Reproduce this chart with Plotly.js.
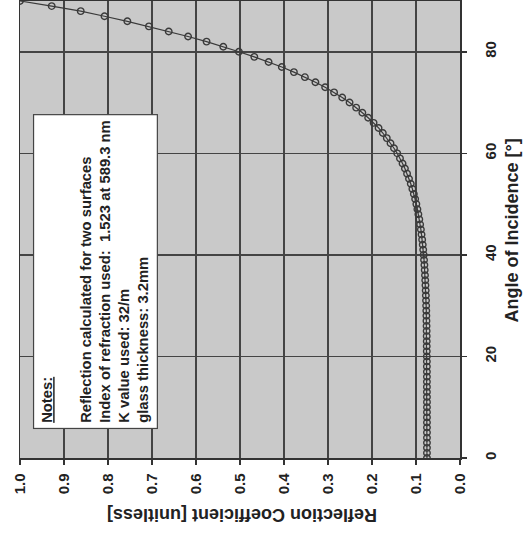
<!DOCTYPE html>
<html>
<head>
<meta charset="utf-8">
<script src="https://cdn.plot.ly/plotly-3.0.1.min.js"></script>
<style>
html,body{margin:0;padding:0;background:#fff;}
#chart{width:525px;height:541px;}
</style>
</head>
<body>
<div id="chart"></div>
<script>
// Angle of incidence [deg], 0..90 in 1 degree steps
const angles = [
  0,1,2,3,4,5,6,7,8,9,10,11,12,13,14,15,16,17,18,19,
  20,21,22,23,24,25,26,27,28,29,30,31,32,33,34,35,36,37,38,39,
  40,41,42,43,44,45,46,47,48,49,50,51,52,53,54,55,56,57,58,59,
  60,61,62,63,64,65,66,67,68,69,70,71,72,73,74,75,76,77,78,79,
  80,81,82,83,84,85,86,87,88,89,90
];
// Reflection coefficient
const reflection = [
  0.0751,0.0751,0.0751,0.0751,0.0751,0.0751,0.0751,0.0751,0.0751,0.0751,
  0.0751,0.0751,0.0751,0.0752,0.0752,0.0752,0.0752,0.0752,0.0753,0.0753,
  0.0754,0.0755,0.0756,0.0756,0.0757,0.0758,0.0760,0.0762,0.0764,0.0766,
  0.0769,0.0772,0.0776,0.0780,0.0785,0.0790,0.0796,0.0802,0.0809,0.0817,
  0.0826,0.0836,0.0847,0.0860,0.0874,0.0889,0.0906,0.0925,0.0946,0.0968,
  0.0992,0.1019,0.1049,0.1082,0.1119,0.1159,0.1203,0.1252,0.1306,0.1364,
  0.1427,0.1500,0.1579,0.1664,0.1754,0.1851,0.1964,0.2087,0.2219,0.2360,
  0.2510,0.2677,0.2862,0.3065,0.3286,0.3525,0.3775,0.4050,0.4350,0.4675,
  0.5025,0.5380,0.5760,0.6180,0.6620,0.7070,0.7560,0.8080,0.8620,0.9280,
  1.0000
];
const xTicks = [1.0,0.9,0.8,0.7,0.6,0.5,0.4,0.3,0.2,0.1,0.0];
const xTickText = ["1.0","0.9","0.8","0.7","0.6","0.5","0.4","0.3","0.2","0.1","0.0"];
const yTicks = [0,20,40,60,80];
const yTickText = ["0","20","40","60","80"];
const xTitle = "Reflection Coefficient [unitless]";
const yTitle = "Angle of Incidence [°]";
const notesLines = [
  "<u>Notes:</u>",
  "",
  "Reflection calculated for two surfaces",
  "Index of refraction used:  1.523 at 589.3 nm",
  "K value used: 32/m",
  "glass thickness: 3.2mm"
];

const FONT = "Liberation Sans, Arial, sans-serif";
const bold = s => "<b>" + s + "</b>";

const trace = {
  x: reflection,
  y: angles,
  type: "scatter",
  mode: "lines+markers",
  line: {color: "#3a3a3a", width: 1.2},
  marker: {symbol: "circle-open", size: 6.5, color: "#3a3a3a", line: {width: 1.4, color: "#3a3a3a"}},
  hoverinfo: "skip",
  showlegend: false
};

const axisCommon = {
  tickangle: -90,
  tickfont: {family: FONT, size: 15, color: "#222"},
  ticks: "outside",
  ticklen: 5,
  tickwidth: 1.5,
  tickcolor: "#333",
  showgrid: true,
  gridcolor: "#444",
  gridwidth: 1.5,
  showline: true,
  linecolor: "#333",
  linewidth: 1.5,
  mirror: true,
  zeroline: false
};

const layout = {
  width: 525,
  height: 541,
  margin: {l: 20, r: 65, t: 1, b: 83, pad: 0},
  paper_bgcolor: "#ffffff",
  plot_bgcolor: "#c9c9c9",
  font: {family: FONT, color: "#222"},
  showlegend: false,
  xaxis: Object.assign({}, axisCommon, {
    range: [1, 0],
    tickvals: xTicks,
    ticktext: xTickText.map(bold),
    ticklabelstandoff: 3
  }),
  yaxis: Object.assign({}, axisCommon, {
    range: [0, 90],
    side: "right",
    tickvals: yTicks,
    ticktext: yTickText.map(bold),
    ticklabelstandoff: 11
  }),
  annotations: [
    {
      xref: "paper", yref: "paper",
      x: 0.1716, y: 0.408,
      xanchor: "center", yanchor: "middle",
      text: notesLines.map(s => s ? bold(s) : "").join("<br>"),
      textangle: -90,
      align: "left",
      showarrow: false,
      bgcolor: "#ffffff",
      bordercolor: "#444",
      borderwidth: 1.2,
      borderpad: 5,
      font: {family: FONT, size: 14.8, color: "#222"}
    },
    {
      xref: "paper", yref: "paper",
      x: 0.5045, y: -0.1247,
      xanchor: "center", yanchor: "middle",
      text: bold(xTitle),
      textangle: 180,
      showarrow: false,
      font: {family: FONT, size: 18, color: "#222"}
    },
    {
      xref: "paper", yref: "paper",
      x: 1.117, y: 0.499,
      xanchor: "center", yanchor: "middle",
      text: bold(yTitle),
      textangle: -90,
      showarrow: false,
      font: {family: FONT, size: 18, color: "#222"}
    }
  ]
};

Plotly.newPlot("chart", [trace], layout, {displayModeBar: false, staticPlot: true});
</script>
</body>
</html>
